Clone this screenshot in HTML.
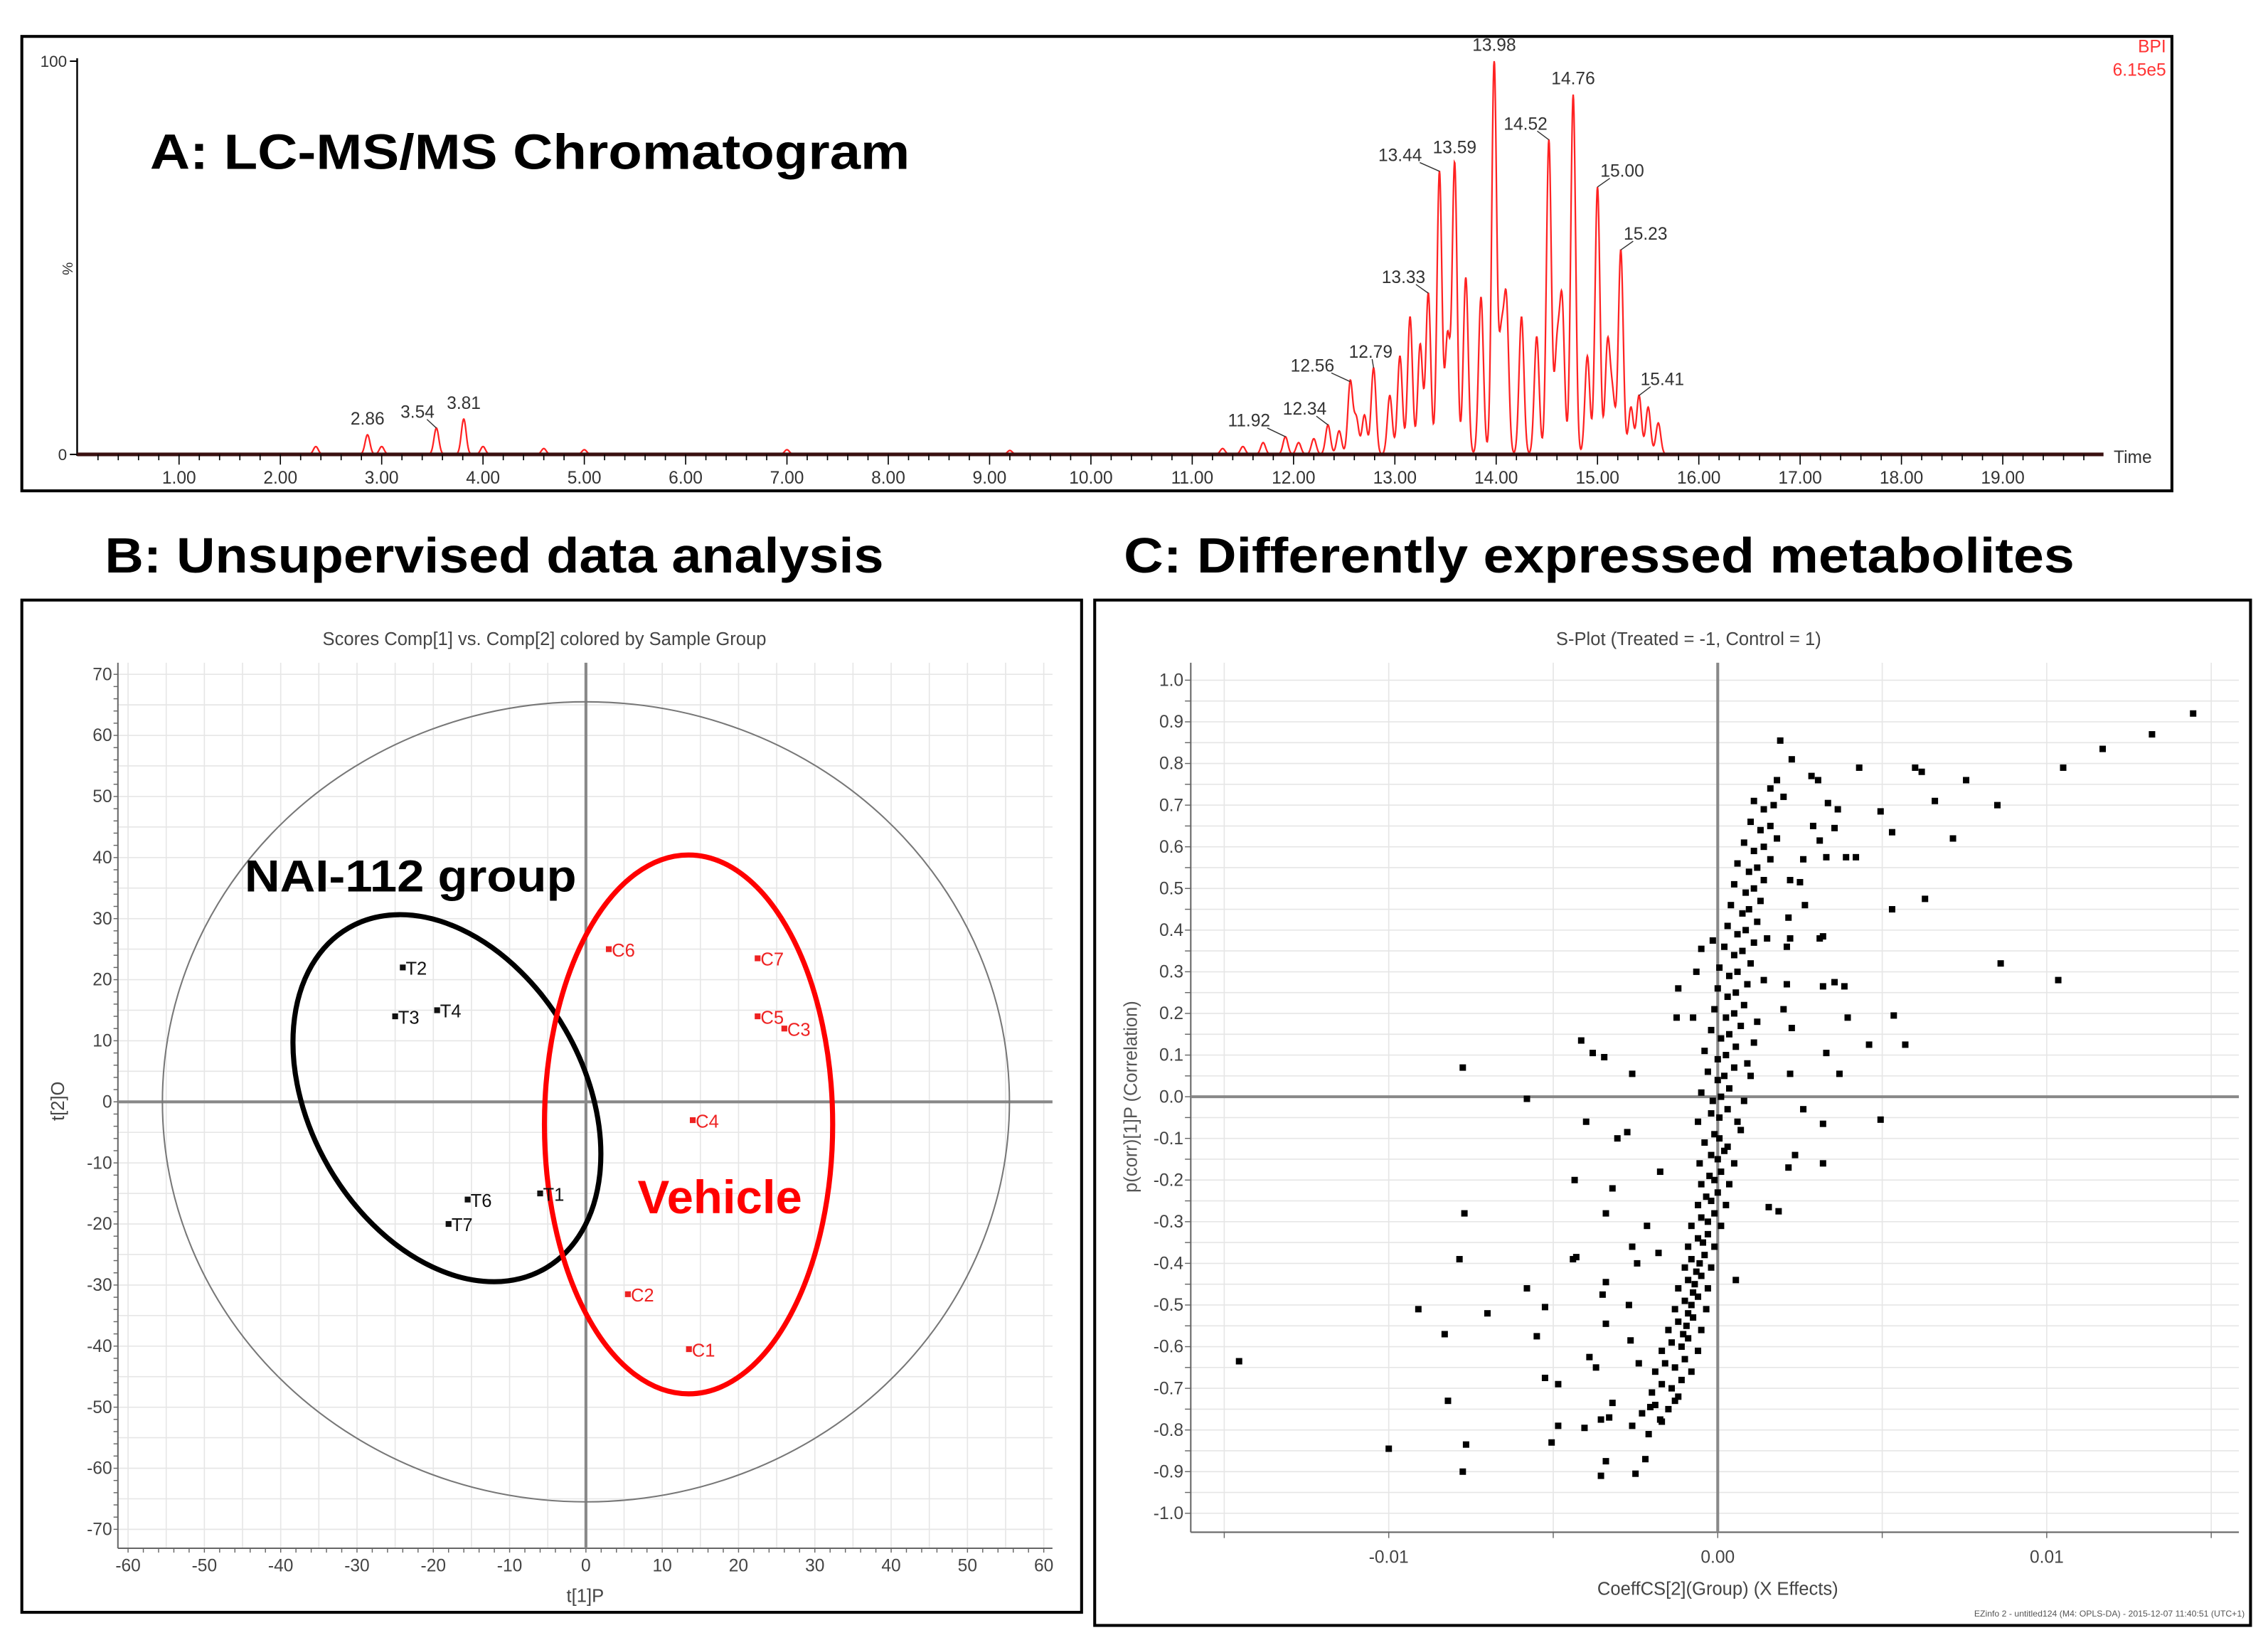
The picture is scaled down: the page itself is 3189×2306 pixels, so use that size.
<!DOCTYPE html>
<html><head><meta charset="utf-8"><style>
html,body{margin:0;padding:0;background:#fff;}
svg{display:block;}
text{font-family:"Liberation Sans",sans-serif;}
</style></head><body>
<svg id="fig" xmlns="http://www.w3.org/2000/svg" width="3189" height="2306" viewBox="0 0 1558 1126" preserveAspectRatio="none">
<rect x="0" y="0" width="1558" height="1126" fill="#fff"/>
<g id="panelA">
<rect x="15" y="25" width="1477" height="312" fill="none" stroke="#000" stroke-width="2"/>
<text x="103" y="116" font-size="34" font-weight="bold" textLength="522" lengthAdjust="spacingAndGlyphs">A: LC-MS/MS Chromatogram</text>
<text x="1488" y="36" font-size="12" fill="#f33" text-anchor="end">BPI</text>
<text x="1488" y="52" font-size="12" fill="#f33" text-anchor="end">6.15e5</text>
<text x="1452" y="318" font-size="12" fill="#333">Time</text>
<text x="43" y="180" font-size="10" fill="#333" transform="rotate(90 43 180)">%</text>
</g>
<text x="72" y="393" font-size="34" font-weight="bold" textLength="535" lengthAdjust="spacingAndGlyphs">B: Unsupervised data analysis</text>
<text x="772" y="393" font-size="34" font-weight="bold" textLength="653" lengthAdjust="spacingAndGlyphs">C: Differently expressed metabolites</text>
<g id="panelB">
<rect x="15" y="412" width="728" height="695" fill="none" stroke="#000" stroke-width="2"/>
<text x="374" y="443" font-size="12.5" fill="#444" text-anchor="middle">Scores Comp[1] vs. Comp[2] colored by Sample Group</text>
<text x="402" y="1100" font-size="12.5" fill="#444" text-anchor="middle">t[1]P</text>
<text x="44" y="756" font-size="12.5" fill="#444" text-anchor="middle" transform="rotate(-90 44 756)">t[2]O</text>
</g>
<g id="panelC">
<rect x="752" y="412" width="794" height="704" fill="none" stroke="#000" stroke-width="2"/>
<text x="1160" y="443" font-size="12.5" fill="#444" text-anchor="middle">S-Plot (Treated = -1, Control = 1)</text>
<text x="1180" y="1095" font-size="12.5" fill="#444" text-anchor="middle">CoeffCS[2](Group) (X Effects)</text>
<text x="781" y="753" font-size="12.5" fill="#555" text-anchor="middle" transform="rotate(-90 781 753)">p(corr)[1]P (Correlation)</text>
<text x="1542" y="1110" font-size="6" fill="#555" text-anchor="end">EZinfo 2 - untitled124 (M4: OPLS-DA) - 2015-12-07 11:40:51 (UTC+1)</text>
</g>
</svg>
<script>
// ---------- Panel A data ----------
const peakTimes = [13.98,14.76,14.52,13.44,13.59,15.00,15.23,13.33,12.79,12.56,15.41,12.34,11.92,3.81,3.54,2.86];
const peakHeights = [100,91.5,80,72,74,68,52,41,22,18.5,15,7.5,4.5,9,6.7,5];
const extraPeakTimes = [13.05,13.15,13.25,13.7,13.85,14.1,14.25,14.4,14.65,14.9,15.1,15.33,15.5,15.6,12.95,12.7,12.45,12.2,11.7,11.5,11.3,2.35,3.0,4.0,4.6,5.0,7.0,9.2,12.05,12.62,13.52,14.05,14.6,15.15];
const extraPeakHeights = [25,35,28,45,40,38,35,30,38,25,28,12,12,8,15,10,6,4,3,2,1.5,2,2,2,1.5,1.2,1.2,1,3,9,30,28,26,14];
const labelDx = [0,0,-16,-27,0,17,17,-17,-2,-26,16,-16,-25,0,-13,0];
const timeTicks = [1,2,3,4,5,6,7,8,9,10,11,12,13,14,15,16,17,18,19];
// ---------- Panel B data ----------
const sampleNames = ['T1','T2','T3','T4','T6','T7','C1','C2','C3','C4','C5','C6','C7'];
const sampleT1 = [-6,-24,-25,-19.5,-15.5,-18,13.5,5.5,26,14,22.5,3,22.5];
const sampleT2 = [-15,22,14,15,-16,-20,-40.5,-31.5,12,-3,14,25,23.5];
const sampleGroup = ['T','T','T','T','T','T','C','C','C','C','C','C','C'];
const scoreXTicks = [-60,-50,-40,-30,-20,-10,0,10,20,30,40,50,60];
const scoreYTicks = [70,60,50,40,30,20,10,0,-10,-20,-30,-40,-50,-60,-70];
// ---------- Panel C data (x in 1e-3 units) ----------
const sCoeff = [14.45,13.2,11.7,10.5,10.35,8.6,8.5,7.55,7.15,6.6,6.2,6.0,4.95,5.3,4.3,6.3,5.3,5.35,5.7,4.6,4.95,3.7,3.95,3.55,3.85,3.2,3.3,3.9,4.2,3.3,3.1,3.2,3.2,2.6,3.2,2.35,2.15,1.55,1.85,1.9,2.25,2.85,3.05,3.35,3.65,2.9,3.55,3.1,2.6,2.2,2.5,2.65,2.15,2.2,2.1,2.1,2.0,2.25,2.2,
-14.55,-10.0,-9.1,-8.3,-8.2,-7.75,-7.65,-7.85,-7.7,-7.75,-7.0,-5.8,-5.8,-5.25,-5.5,-5.25,-5.05,-4.85,-4.85,-4.35,-4.4,-4.3,-4.15,-3.8,-3.45,-4.0,-4.05,-3.9,-3.55,-3.4,-3.55,-3.2,-3.4,-3.05,-2.75,-2.6,-3.4,-3.5,-3.4,-3.7,-3.2,-3.3,-2.5,-2.2,-2.7,-2.65,-2.4,-2.05,-1.75,-1.2,-2.15,-2.6,-2.45,-1.8,-1.75,-1.2,-1.25,-0.75,-0.65,-0.5,-0.15,0.55,
-2.6,-2.1,-1.7,-2.3,-1.9,-1.5,-1.3,-2.0,-1.7,-1.4,-1.1,-1.9,-1.6,-1.3,-1.0,-0.8,-1.7,-1.4,-1.1,-0.9,-0.6,-1.5,-1.2,-0.95,-0.75,-0.5,-1.05,-1.3,-1.0,-0.8,-0.6,-0.35,-0.9,-1.2,-0.9,-0.7,-0.5,-0.3,-0.75,-1.0,-0.8,-0.55,-0.4,-0.2,-0.65,-0.9,-0.6,-0.45,-0.3,-0.1,-0.8,-0.5,-0.3,-0.1,0.1,-0.6,-0.35,-0.2,0.0,0.25,-0.5,-0.25,-0.1,0.1,0.35,-0.55,-0.2,0.0,0.2,0.5,-0.4,-0.1,0.05,0.3,0.7,-0.6,-0.2,0.05,0.3,0.6,-0.5,-0.15,0.1,0.35,0.8,-0.3,0.0,0.2,0.5,1.0,-0.4,0.0,0.25,0.55,0.9,-0.2,0.1,0.35,0.7,1.1,-0.1,0.25,0.5,0.8,1.2,0.0,0.3,0.55,0.9,0.05,0.35,0.6,1.0,1.4,0.2,0.5,0.75,1.1,0.3,0.6,0.85,1.2,1.5,0.4,0.75,0.95,1.3,0.5,0.85,1.1,1.4,0.6,0.95,1.2,1.6,0.8,1.1,1.4,1.8,1.0,1.3,1.6,1.1,1.4,1.7,2.0,1.6,1.8];
const sCorr = [0.92,0.87,0.835,0.79,0.28,0.32,0.70,0.76,0.62,0.71,0.78,0.79,0.685,0.635,0.79,0.475,0.45,0.195,0.125,0.125,-0.055,0.055,0.19,0.275,0.265,0.265,0.105,0.575,0.575,0.575,0.38,0.385,-0.065,-0.03,-0.16,-0.14,-0.17,-0.265,-0.275,0.855,0.81,0.77,0.76,0.705,0.69,0.65,0.645,0.615,0.57,0.52,0.515,0.46,0.43,0.38,0.36,0.27,0.21,0.165,0.055,
-0.635,-0.845,-0.51,-0.57,-0.73,-0.90,-0.835,-0.39,-0.28,0.07,-0.52,-0.005,-0.46,-0.505,-0.575,-0.675,-0.83,-0.79,-0.69,-0.2,-0.39,-0.385,0.135,0.105,0.095,-0.06,-0.795,-0.625,-0.91,-0.875,-0.775,-0.22,-0.28,-0.1,-0.085,0.055,-0.445,-0.475,-0.545,-0.65,-0.735,-0.77,-0.905,-0.87,-0.5,-0.585,-0.64,-0.745,-0.775,-0.72,-0.31,-0.36,-0.4,-0.375,-0.18,0.26,0.19,0.19,0.30,0.355,0.375,-0.44,
-0.79,-0.81,-0.78,-0.76,-0.74,-0.75,-0.73,-0.71,-0.69,-0.70,-0.68,-0.66,-0.64,-0.65,-0.63,-0.66,-0.61,-0.59,-0.60,-0.58,-0.61,-0.56,-0.54,-0.55,-0.53,-0.56,-0.57,-0.51,-0.49,-0.50,-0.48,-0.51,-0.52,-0.46,-0.44,-0.45,-0.43,-0.46,-0.47,-0.41,-0.39,-0.40,-0.38,-0.41,-0.42,-0.36,-0.34,-0.35,-0.33,-0.36,-0.31,-0.29,-0.30,-0.28,-0.31,-0.26,-0.24,-0.25,-0.23,-0.26,-0.21,-0.19,-0.20,-0.18,-0.21,-0.16,-0.14,-0.15,-0.13,-0.16,-0.11,-0.09,-0.10,-0.12,-0.08,-0.06,-0.04,-0.05,-0.03,-0.06,0.01,-0.01,0.00,0.02,-0.01,0.06,0.04,0.05,0.07,0.05,0.11,0.09,0.10,0.12,0.08,0.16,0.14,0.15,0.17,0.13,0.21,0.19,0.20,0.22,0.18,0.26,0.24,0.25,0.27,0.31,0.29,0.30,0.32,0.28,0.36,0.34,0.35,0.37,0.41,0.39,0.40,0.42,0.38,0.46,0.44,0.45,0.47,0.51,0.49,0.50,0.52,0.56,0.54,0.55,0.57,0.61,0.59,0.60,0.62,0.66,0.64,0.65,0.71,0.69,0.70,0.72,0.74,0.76];
const sXTicks = [-10,0,10];
const sXTickLabels = ['-0.01','0.00','0.01'];
const sYTicks = [1.0,0.9,0.8,0.7,0.6,0.5,0.4,0.3,0.2,0.1,0.0,-0.1,-0.2,-0.3,-0.4,-0.5,-0.6,-0.7,-0.8,-0.9,-1.0];

const NS='http://www.w3.org/2000/svg';
function mk(tag, parent, attrs){const e=document.createElementNS(NS,tag);for(const k in attrs)e.setAttribute(k,attrs[k]);parent.appendChild(e);return e;}

// ---------- Panel A ----------
(function(){
const g=document.getElementById('panelA');
const xA=t=>53.4+t*69.6, yA=p=>312-p*2.7;
let ax=mk('line',g,{x1:53,y1:40,x2:53,y2:313,stroke:'#000','stroke-width':1.2});


for(const v of [0,100]){
  const t=mk('text',g,{x:46,y:yA(v)+4,'font-size':11,fill:'#333','text-anchor':'end'});t.textContent=v;
  
  
  mk('line',g,{x1:48,y1:yA(v),x2:53,y2:yA(v),stroke:'#000'});
}
const allT=peakTimes.concat(extraPeakTimes), allH=peakHeights.concat(extraPeakHeights);
let pts=[];
for(let t=0;t<=19.95;t+=0.004){
  let s=0;for(let i=0;i<allT.length;i++){const d=(t-allT[i])/0.024;if(Math.abs(d)<6)s+=allH[i]*Math.exp(-d*d/2);}
  pts.push(xA(t).toFixed(2)+','+yA(Math.min(s,100)).toFixed(2));
}
const tr=mk('polyline',g,{points:pts.join(' '),fill:'none',stroke:'#f22','stroke-width':1.1});


let xl=mk('line',g,{x1:53,y1:312,x2:1445,y2:312,stroke:'#3a1010','stroke-width':2.5});


for(let k=1;k<100;k++){const t=k*0.2;mk('line',g,{x1:xA(t),y1:312,x2:xA(t),y2:(k%5==0?319:316),stroke:'#000','stroke-width':0.8});}
timeTicks.forEach(t=>{const e=mk('text',g,{x:xA(t),y:332,'font-size':12,fill:'#333','text-anchor':'middle'});e.textContent=t.toFixed(2);
  
  });
peakTimes.forEach((t,i)=>{
  const px=xA(t), py=yA(peakHeights[i]);
  const e=mk('text',g,{x:px+labelDx[i],y:py-7,'font-size':12,fill:'#333','text-anchor':'middle'});e.textContent=t.toFixed(2);
  
  
  if(labelDx[i]!==0){mk('line',g,{x1:px+labelDx[i]*0.5,y1:py-6,x2:px,y2:py,stroke:'#333','stroke-width':0.7});}
});
})();

// ---------- Panel B ----------
(function(){
const g=document.getElementById('panelB');
const xB=v=>402.5+v*5.242, yB=v=>756.5-v*4.193;
for(let v=-60;v<=60;v+=5){mk('line',g,{x1:xB(v),y1:455,x2:xB(v),y2:1063,stroke:'#e6e6e6','stroke-width':0.8});}
for(let v=-70;v<=70;v+=5){mk('line',g,{x1:81,y1:yB(v),x2:723,y2:yB(v),stroke:'#e6e6e6','stroke-width':0.8});}
mk('line',g,{x1:81,y1:455,x2:81,y2:1063,stroke:'#666','stroke-width':1});
mk('line',g,{x1:81,y1:1063,x2:723,y2:1063,stroke:'#666','stroke-width':1});
for(let v=-70;v<=70;v+=2){mk('line',g,{x1:78,y1:yB(v),x2:81,y2:yB(v),stroke:'#666','stroke-width':0.7});}
for(let v=-60;v<=60;v+=2){mk('line',g,{x1:xB(v),y1:1063,x2:xB(v),y2:1066,stroke:'#666','stroke-width':0.7});}
scoreYTicks.forEach(v=>{const e=mk('text',g,{x:77,y:yB(v)+4,'font-size':12,fill:'#444','text-anchor':'end'});e.textContent=v;
  
  });
scoreXTicks.forEach(v=>{const e=mk('text',g,{x:xB(v),y:1079,'font-size':12,fill:'#444','text-anchor':'middle'});e.textContent=v;
  
  });
mk('line',g,{x1:xB(0),y1:455,x2:xB(0),y2:1063,stroke:'#888','stroke-width':2});
mk('line',g,{x1:81,y1:yB(0),x2:723,y2:yB(0),stroke:'#888','stroke-width':2});
const h=mk('ellipse',g,{cx:xB(0),cy:yB(0),rx:55.5*5.242,ry:65.5*4.193,fill:'none',stroke:'#777','stroke-width':1});


const be=mk('ellipse',g,{cx:307,cy:754,rx:135,ry:94,transform:'rotate(60 307 754)',fill:'none',stroke:'#000','stroke-width':3.5});


const re=mk('ellipse',g,{cx:473,cy:772,rx:99,ry:185,fill:'none',stroke:'#f00','stroke-width':3.5});


sampleNames.forEach((n,i)=>{
  const col=sampleGroup[i]=='T'?'#111':'#e22';
  const cx=xB(sampleT1[i]), cy=yB(sampleT2[i]);
  const p=mk('rect',g,{x:cx-2,y:cy-2,width:4,height:4,fill:col});
  
  
  const t=mk('text',g,{x:cx+2,y:cy+5,'font-size':12.5,fill:col});t.textContent=n;
  
  
});
const a=mk('text',g,{x:168,y:612,'font-size':31,'font-weight':'bold',fill:'#000',textLength:228,lengthAdjust:'spacingAndGlyphs'});a.textContent='NAI-112 group';


const b=mk('text',g,{x:438,y:833,'font-size':32,'font-weight':'bold',fill:'#f00',textLength:113,lengthAdjust:'spacingAndGlyphs'});b.textContent='Vehicle';


})();

// ---------- Panel C ----------
(function(){
const g=document.getElementById('panelC');
const xC=v=>1180+v*22.6, yC=v=>753-v*286;
const L=818;
for(let k=-20;k<=20;k++){const v=k*0.05;mk('line',g,{x1:L,y1:yC(v),x2:1538,y2:yC(v),stroke:'#e6e6e6','stroke-width':0.8});}
for(let v=-15;v<=15;v+=5){mk('line',g,{x1:xC(v),y1:455,x2:xC(v),y2:1052,stroke:'#e6e6e6','stroke-width':0.8});}
mk('line',g,{x1:L,y1:455,x2:L,y2:1052,stroke:'#666','stroke-width':1});
mk('line',g,{x1:L,y1:1052,x2:1538,y2:1052,stroke:'#666','stroke-width':1});
for(let k=-20;k<=20;k++){mk('line',g,{x1:L-4,y1:yC(k*0.05),x2:L,y2:yC(k*0.05),stroke:'#666','stroke-width':0.7});}
for(let v=-15;v<=15;v+=5){mk('line',g,{x1:xC(v),y1:1052,x2:xC(v),y2:1056,stroke:'#666','stroke-width':0.7});}
sYTicks.forEach(v=>{const e=mk('text',g,{x:L-5,y:yC(v)+4,'font-size':12,fill:'#444','text-anchor':'end'});e.textContent=v.toFixed(1);
  
  });
sXTicks.forEach((v,i)=>{const e=mk('text',g,{x:xC(v),y:1073,'font-size':12,fill:'#444','text-anchor':'middle'});e.textContent=sXTickLabels[i];
  
  });
mk('line',g,{x1:xC(0),y1:455,x2:xC(0),y2:1052,stroke:'#888','stroke-width':2});
mk('line',g,{x1:L,y1:yC(0),x2:1538,y2:yC(0),stroke:'#888','stroke-width':2});
sCoeff.forEach((v,i)=>{
  const p=mk('rect',g,{x:xC(v)-2.2,y:yC(sCorr[i])-2.2,width:4.4,height:4.4,fill:'#000'});
  
  
});
})();
</script>
</body></html>
